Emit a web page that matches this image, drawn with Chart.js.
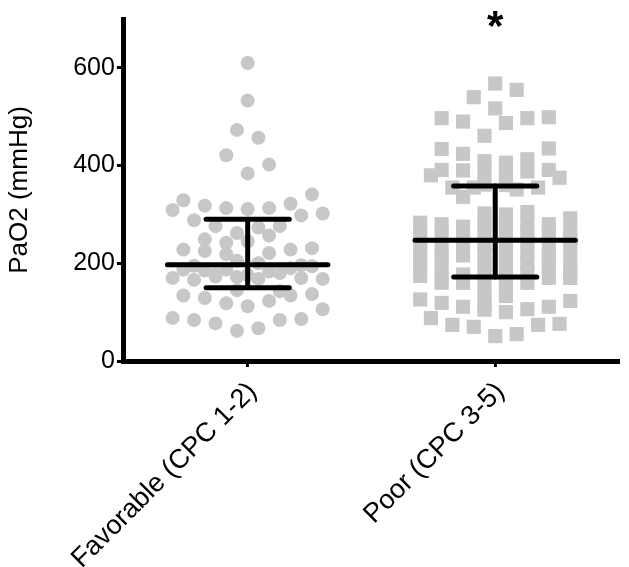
<!DOCTYPE html>
<html>
<head>
<meta charset="utf-8">
<script src="https://cdn.jsdelivr.net/npm/chart.js@4.4.0/dist/chart.umd.min.js"></script>
<style>
html,body{margin:0;padding:0;background:#fff;}
#wrap{width:629px;height:567px;position:relative;}
</style>
</head>
<body>
<div id="wrap"><canvas id="c"></canvas></div>
<script>
// ---- data ----
const categories = ['Favorable (CPC 1-2)', 'Poor (CPC 3-5)'];
const yTicks = [0, 200, 400, 600];
const yTitle = 'PaO2 (mmHg)';

// Favorable group: PaO2 values and their dot-plot column slot
const favValues = [610, 533, 473, 457, 421, 402, 384, 341, 329, 322, 318, 313, 311, 313, 309, 302, 298, 288,
  276, 273, 276, 262, 257, 249, 242, 245, 231, 228, 228, 225, 219, 221,
  205, 200, 195, 196, 187, 185, 187, 183, 190, 194, 178, 180, 176,
  170, 166, 173, 172, 168, 170, 168, 145, 143,
  134, 129, 118, 112, 123, 134, 137, 106, 88, 84, 77, 62, 67, 84, 86];
const favSlots = [0, 0, -1, 1, -2, 2, 0, 6, -6, 4, -4, -2, 0, 2, -7, 7, 5, -5,
  -3, 1, 3, -1, 2, -4, -2, 0, 6, -6, 4, -4, -2, 2,
  -1, 1, -5, 5, -6, -4, -2, 2, 4, 6, -3, 3, 0,
  -7, -5, -3, -1, 1, 5, 7, -1, 3,
  -6, -4, -2, 0, 2, 4, 6, 7, -7, -5, -3, -1, 1, 3, 5];

// Poor group
const poorValues = [568, 555, 540, 517, 497, 490, 487, 497, 499, 461, 434, 424, 435, 413, 406, 391, 390, 391,
  409, 386, 385, 388, 380, 375, 361, 360, 355, 351, 355, 355, 336,
  283, 262, 240, 218, 196, 174,
  280, 258, 236, 214, 192, 170, 160,
  275, 255, 236, 216, 177, 160,
  302, 281, 260, 239, 218, 197, 176, 155, 134, 113, 105,
  300, 279, 258, 237, 216, 195, 174, 153, 133, 100,
  305, 284, 263, 242, 221, 200, 180, 160,
  280, 258, 236, 214, 192, 170,
  292, 270, 248, 226, 204, 182, 170,
  126, 119, 111, 106, 111, 123,
  88, 74, 70, 51, 55, 74, 76];
const poorSlots = [0, 2, -2, 0, -5, -3, 1, 3, 5, -1, -5, -3, 5, 3, 1, -5, -3, 5,
  -1, -1, 1, 3, -6, 6, -1, 1, -2, 2, 4, -4, -3,
  -7, -7, -7, -7, -7, -7,
  -5, -5, -5, -5, -5, -5, -5,
  -3, -3, -3, -3, -3, -3,
  -1, -1, -1, -1, -1, -1, -1, -1, -1, -1, -1,
  1, 1, 1, 1, 1, 1, 1, 1, 1, 1,
  3, 3, 3, 3, 3, 3, 3, 3,
  5, 5, 5, 5, 5, 5,
  7, 7, 7, 7, 7, 7, 7,
  -7, -5, -3, 3, 5, 7,
  -6, -4, -2, 0, 2, 4, 6];

// centre line and whiskers per group
const centers = [197, 247];
const whiskerHigh = [290, 358];
const whiskerLow = [150, 172];
const significance = ['', '*'];

// ---- styles ----
const FONT = "'Liberation Sans', Arial, Helvetica, sans-serif";
const DOT = 'rgb(200,198,199)';
const SLOT = 0.0433;
const CENTER_HALF = 0.324;
const CAP_HALF = 0.168;
const BAR_W = 5;
const X_AXIS_HEIGHT = 206;

const pts = (vals, slots, g) => vals.map((v, i) => ({x: g + slots[i] * SLOT, y: v}));

const datasets = [];
for (let g = 0; g < categories.length; g++) {
  const seg = (a, b) => ({data: [a, b], showLine: true, pointRadius: 0, borderColor: '#000',
    borderWidth: BAR_W, borderCapStyle: 'round', fill: false, order: 0});
  datasets.push(seg({x: g - CENTER_HALF, y: centers[g]}, {x: g + CENTER_HALF, y: centers[g]}));
  datasets.push(seg({x: g - CAP_HALF, y: whiskerHigh[g]}, {x: g + CAP_HALF, y: whiskerHigh[g]}));
  datasets.push(seg({x: g - CAP_HALF, y: whiskerLow[g]}, {x: g + CAP_HALF, y: whiskerLow[g]}));
  datasets.push(seg({x: g, y: whiskerLow[g]}, {x: g, y: whiskerHigh[g]}));
}
datasets.push({label: categories[0], data: pts(favValues, favSlots, 0), pointStyle: 'circle', pointRadius: 7,
  backgroundColor: DOT, borderWidth: 0, borderColor: DOT, order: 1});
datasets.push({label: categories[1], data: pts(poorValues, poorSlots, 1), pointStyle: 'rect', pointRadius: 10,
  backgroundColor: DOT, borderWidth: 0, borderColor: DOT, order: 1});

const sigPlugin = {
  id: 'sig',
  afterDatasetsDraw(chart) {
    const {ctx, scales: {x, y}} = chart;
    ctx.save();
    ctx.fillStyle = '#000';
    ctx.font = 'bold 42px ' + FONT;
    ctx.textAlign = 'center';
    ctx.textBaseline = 'alphabetic';
    significance.forEach((s, g) => {
      if (s) ctx.fillText(s, x.getPixelForValue(g), y.getPixelForValue(657));
    });
    ctx.restore();
  }
};

new Chart(document.getElementById('c'), {
  type: 'scatter',
  data: {datasets},
  plugins: [sigPlugin],
  options: {
    responsive: true,
    maintainAspectRatio: false,
    animation: false,
    events: [],
    layout: {padding: {top: 19, right: 7, left: 4, bottom: 0}},
    plugins: {legend: {display: false}, tooltip: {enabled: false}},
    scales: {
      x: {
        type: 'linear', min: -0.5, max: 1.5,
        afterBuildTicks: s => { s.ticks = categories.map((c, i) => ({value: i})); },
        afterFit: s => { s.height = X_AXIS_HEIGHT; },
        ticks: {callback: v => categories[v], minRotation: 45, maxRotation: 45, autoSkip: false,
          color: '#000', font: {family: FONT, size: 27}, padding: 9, labelOffset: 5},
        grid: {drawOnChartArea: false, drawTicks: true, tickLength: 6, tickWidth: 3, tickColor: '#000'},
        border: {color: '#000', width: BAR_W}
      },
      y: {
        min: 0, max: 700,
        afterBuildTicks: s => { s.ticks = yTicks.map(v => ({value: v})); },
        ticks: {color: '#000', font: {family: FONT, size: 25}, padding: 2},
        grid: {drawOnChartArea: false, drawTicks: true, tickLength: 7, tickWidth: 3, tickColor: '#000'},
        border: {color: '#000', width: BAR_W},
        title: {display: true, text: yTitle, color: '#000', font: {family: FONT, size: 26}, padding: {top: 0, bottom: 36}}
      }
    }
  }
});
</script>
</body>
</html>
